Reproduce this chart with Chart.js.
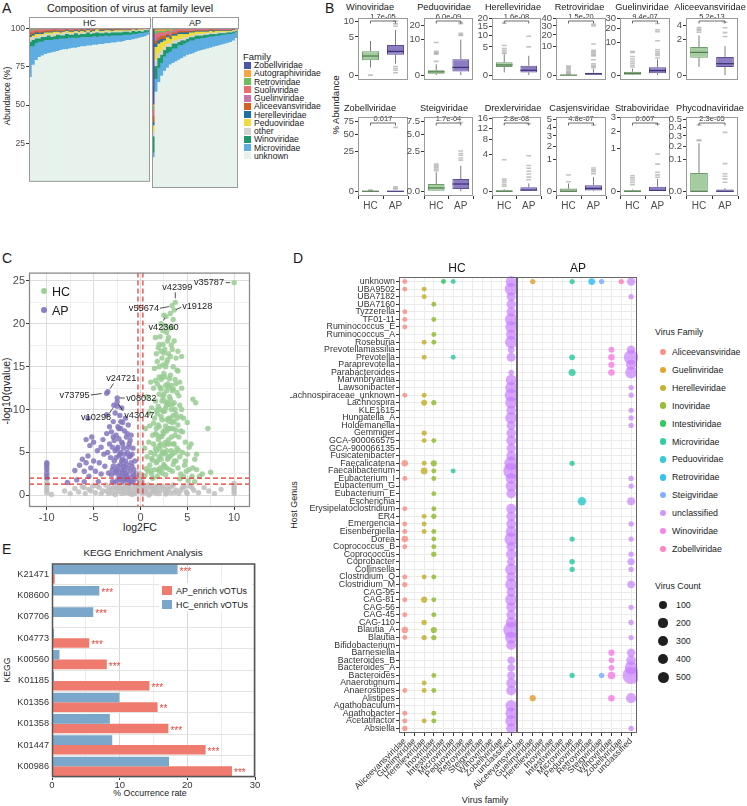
<!DOCTYPE html>
<html>
<head>
<meta charset="utf-8">
<title>Virome figure</title>
<script src="https://cdn.jsdelivr.net/npm/chart.js@4.4.1/dist/chart.umd.min.js"></script>
<style>
  body { margin: 0; background: #fff; }
  #root { position: relative; width: 747px; height: 806px; overflow: hidden; font-family: "Liberation Sans", Arial, sans-serif; color: #1a1a1a; }
  #root canvas { position: absolute; }
  .t { position: absolute; white-space: nowrap; line-height: 1; }
  .sw { position: absolute; }
</style>
</head>
<body>
<div id="root"></div>
<script>
// ---------- A: family composition per sample (stack order bottom -> top) ----------
const stackFamilies = ['unknown', 'Microviridae', 'Winoviridae', 'other', 'Peduoviridae', 'Herelleviridae',
  'Aliceevansviridae', 'Guelinviridae', 'Suoliviridae', 'Retroviridae', 'Autographiviridae', 'Zobellviridae'];

const hcUnknown = [68,76,79,81,82,83,83.5,84,84.5,85,85.5,86,86,86.5,87,87,87.5,88,88,88.5,88.5,89,89,89.5,89.5,90,90,90.5,90.5,91,91,91.5,92,92,92.5,93,93.5,94,94.5,95.5];
const hcMicro = [20,12,11,10,9,9,8.5,8,8,7.5,7.5,7,7,7,6.5,6.5,6,6,6,5.5,5.5,5.5,5,5,5,5,4.5,4.5,4.5,4,4,4,3.5,3.5,3.5,3,3,2.5,2.5,2];
const hcWino = [3,4,3,2,3,2,3,2,2,3,2,2,3,2,2,3,2,2,2,3,2,2,3,2,2,2,2,2,2,2,2,2,2,1.5,2,1.5,1.5,1,1.5,1];
const hcOther = [2,2,1,2,1,2,1,1,2,1,1,2,1,1,1,1,1,1,1,0.5,1,1,1,1,0.5,1,1,0.5,1,0.5,1,0.5,0.5,1,0.5,0.5,0.5,1,0.5,0.5];
const hcPedu = [1,1,2,1,1,1,1,2,1,1,1,0.5,1,1,1,0.5,1,1,0.5,1,0.5,0.5,1,0.5,1,0.5,1,0.5,0.5,1,0.5,0.5,0.5,0.5,0.5,0.5,0.5,0.5,0.5,0.3];
const hcHerelle = [1,1,1,0.5,1,0.5,0.5,0.5,0.5,0.5,0.5,0.5,0.5,0.5,0.5,0.5,0.5,0.5,0.5,0.5,0.5,0.5,0.3,0.5,0.5,0.3,0.5,0.5,0.3,0.3,0.3,0.3,0.3,0.3,0.3,0.3,0.2,0.2,0.2,0.2];
const hcAlice = [2,1,1,1,1,1,1,1,1,0.5,1,0.5,0.5,0.5,0.5,0.5,0.5,0.5,0.5,0.5,0.5,0.5,0.3,0.5,0.5,0.5,0.5,0.5,0.3,0.3,0.3,0.3,0.3,0.3,0.3,0.3,0.3,0.3,0.3,0.2];
const hcGuelin = [0.5,0.5,0.5,0.5,0.5,0.5,0.5,0.5,0.5,0.5,0.5,0.5,0.3,0.5,0.5,0.3,0.5,0.3,0.5,0.3,0.3,0.3,0.3,0.3,0.3,0.3,0.3,0.3,0.3,0.3,0.2,0.3,0.3,0.2,0.2,0.2,0.2,0.2,0.2,0.1];
const hcSuoli = [1,1,0.5,1,0.5,0.5,0.5,0.5,0.5,0.5,0.5,0.5,0.5,0.5,0.5,0.5,0.5,0.5,0.5,0.5,0.5,0.3,0.5,0.3,0.3,0.3,0.5,0.3,0.3,0.3,0.3,0.3,0.3,0.3,0.2,0.3,0.2,0.2,0.1,0.1];
const hcRetro = [1,1,0.5,0.5,0.5,0.5,0.5,0.5,0.5,0.5,0.3,0.5,0.5,0.3,0.3,0.5,0.3,0.3,0.3,0.3,0.3,0.3,0.3,0.3,0.3,0.3,0.3,0.3,0.3,0.3,0.3,0.2,0.2,0.2,0.2,0.2,0.2,0.1,0.1,0.1];
const hcAuto = [0.5,0.3,0.3,0.3,0.3,0.3,0.3,0.3,0.3,0.3,0.3,0.3,0.3,0.3,0.3,0.3,0.3,0.3,0.3,0.3,0.3,0.3,0.3,0.3,0.3,0.3,0.3,0.3,0.3,0.3,0.3,0.3,0.3,0.3,0.2,0.2,0.2,0.2,0.1,0.1];
const hcZobell = [0.5,0.5,0.5,0.5,0.5,0.5,0.5,0.5,0.5,0.5,0.5,0.5,0.5,0.5,0.5,0.5,0.5,0.5,0.5,0.5,0.5,0.5,0.5,0.5,0.5,0.5,0.5,0.5,0.5,0.5,0.5,0.5,0.5,0.5,0.5,0.5,0.5,0.5,0.5,0.5];

const apUnknown = [19,60,66,70,73,75,77,78,79,80,81,82,83,83.5,84,85,85.5,86,86.5,87,87.5,88,88.5,89,89.5,90,90.5,91,92,93.5];
const apMicro = [3,8,9,8,9,9,8,9,8,9,8,8,8,8.5,8,8,7.5,7.5,7,7,7,6.5,6.5,6,6,5.5,5.5,5,4.5,4];
const apWino = [10,8,6,5,4,4,3,3,3,2,3,2,2,2,2,2,2,1.5,2,1.5,1.5,1.5,1,1.5,1,1,1,1,1,0.5];
const apOther = [3,4,3,3,2,2,2,2,2,2,1,2,1,1,1,1,1,1,1,1,1,0.5,1,0.5,1,0.5,0.5,0.5,0.5,0.5];
const apPedu = [4,8,6,5,4,4,3,3,3,3,3,2,2,2,2,1.5,1.5,1.5,1,1,1,1,1,1,0.5,1,0.5,0.5,0.5,0.5];
const apHerelle = [2,2,2,2,1,1,1,1,1,1,1,1,1,0.5,0.5,0.5,0.5,0.5,0.5,0.5,0.5,0.5,0.3,0.3,0.3,0.3,0.3,0.3,0.3,0.2];
const apAlice = [4,2,2,2,2,1,1,1,1,1,1,1,1,0.5,0.5,0.5,0.5,0.5,0.5,0.5,0.5,0.5,0.5,0.3,0.3,0.3,0.3,0.3,0.3,0.2];
const apGuelin = [1,2,1,1,1,1,1,1,1,0.5,0.5,0.5,0.5,0.5,0.5,0.5,0.5,0.5,0.5,0.5,0.3,0.3,0.3,0.3,0.3,0.3,0.3,0.3,0.2,0.2];
const apSuoli = [3,2,2,1,1,1,1,0.5,1,0.5,0.5,0.5,0.5,0.5,0.5,0.5,0.5,0.5,0.5,0.3,0.3,0.5,0.3,0.3,0.3,0.3,0.3,0.3,0.2,0.2];
const apRetro = [2,2,1,1,1,1,1,1,0.5,0.5,0.5,0.5,0.5,0.5,0.5,0.5,0.5,0.5,0.3,0.3,0.3,0.3,0.3,0.3,0.3,0.3,0.3,0.3,0.2,0.2];
const apAuto = [1,1,1,1,1,0.5,1,1,0.5,0.5,0.5,0.5,0.5,0.5,0.5,0.3,0.3,0.3,0.3,0.3,0.3,0.3,0.3,0.3,0.3,0.3,0.3,0.3,0.2,0.2];
const apZobell = [50,2,2,2,1,1,1,0.5,1,0.5,0.5,0.5,0.5,0.5,0.5,0.5,0.5,0.5,0.5,0.5,0.5,0.5,0.5,0.5,0.5,0.5,0.5,0.5,0.5,0.5];

// ---------- B: boxplots (% abundance, sqrt axis) ----------
const boxFamilies = ['Winoviridae','Peduoviridae','Herelleviridae','Retroviridae','Guelinviridae','Aliceevansviridae',
  'Zobellviridae','Steigviridae','Drexlerviridae','Casjensviridae','Straboviridae','Phycodnaviridae'];
const boxPValues = ['1.7e-05','6.0e-09','1.6e-08','1.5e-20','9.4e-07','5.2e-13','0.017','1.7e-04','2.8e-08','4.8e-07','0.007','2.3e-05'];
const boxTicks = [['0','5','10'], ['0','10','20'], ['0','5','10','15','20'], ['0','10','20','30','40'], ['0','10','20','30'],
  ['0','1','2','3','4','5'], ['0','25','50','75'], ['0.0','2.5','5.0','7.5'], ['0','4','8','12','16'],
  ['0','1','2','3','4','5'], ['0','1','2','3'], ['0.0','0.1','0.2','0.3','0.4','0.5']];
const boxTop = [11.2, 26, 20.5, 40.5, 30.3, 5.25, 85, 8.5, 16.6, 5.4, 3.06, 0.54];
// [lower whisker, q1, median, q3, upper whisker]
const hcStats = [[0.2,0.77,1.25,1.97,4.0], [0,0.015,0.085,0.19,0.94], [0.045,0.41,0.65,1.04,2.74], [0,0,0,0.005,0.01],
  [0,0.001,0.03,0.11,0.38], [0.11,0.49,0.83,1.27,2.53], [0,0,0,0.002,0.004], [0,0,0.017,0.082,0.555],
  [0,0,0,0.005,0.012], [0,0,0,0.0074,0.06], [0,0,0,0.001,0.002], [0,0,0,0.033,0.226]];
const apStats = [[0.45,1.43,1.93,3.09,7.0], [0,0.1,0.47,2.0,10], [0,0.045,0.146,0.55,2.34], [0,0,0.015,0.07,0.47],
  [0,0.034,0.19,0.56,2.3], [0,0.104,0.21,0.535,1.35], [0,0,0,0.003,0.006], [0,0.008,0.082,0.23,1.0],
  [0,0,0.005,0.048,0.19], [0,0.0005,0.0074,0.036,0.2], [0,0,0.0005,0.0117,0.084], [0,0,0,0.0003,0.001]];
const hcOutliers = [[0], [1.5,3.5,3.8,4.1,4.5,8.5], [2.95,3.3,3.8,4.4,5.5,17], [0.02,0.05,0.1,0.2,0.35,0.55,0.75,1.0],
  [0.6,0.9,1.3,1.8,2.4,3.2,4.8,5.2], [2.95,3.2,3.4,3.65], [0.01,0.02], [0.65,0.75,0.85,0.95,1.05,1.15],
  [0.08,0.15,0.25,0.35,0.46,3.0], [0.09,0.26], [0.025,0.045,0.07,0.1,0.135], [0.25,0.26,0.43]];
const apOutliers = [[0.02,0.08,0.15,0.25,8.2,9.0,10.0], [12.5,13,14,21,22], [5.0,9.5],
  [0.7,0.9,1.2,1.6,2.9,4.6,5.2,6.0,6.8,7.6,12,30,32], [2.7,3.6,4.2,5,6,11,17.5,19,24.8], [2.4,2.9,3.6,4.5],
  [0.08,0.15,0.3,63], [1.5,1.7,2.0,2.2,2.5,7.3], [0.4,0.6,0.9,1.2,1.6,2.0,3.8,13.7], [0.3,0.38,0.45,0.53,4.3],
  [0.11,0.15,0.2,0.41,0.77,2.5], [0.008,0.015,0.022,0.03,0.075,0.34]];

// ---------- C: volcano [log2FC, -log10(q)] ----------
const hcPts = [[0.5,2.3],[0.6,3.1],[0.7,4.5],[0.8,2.8],[0.9,6.2],[1.0,3.5],[1.0,8.1],[1.1,5.0],[1.2,2.5],[1.2,10.2],[1.3,7.0],[1.3,4.1],[1.4,12.5],[1.4,6.0],[1.5,3.0],[1.5,9.0],[1.5,14.8],[1.6,5.5],[1.6,11.0],[1.7,7.8],[1.7,16.5],[1.7,3.8],[1.8,13.0],[1.8,9.5],[1.8,2.2],[1.9,6.5],[1.9,17.2],[2.0,4.5],[2.0,11.8],[2.0,8.0],[2.0,15.0],[2.1,3.2],[2.1,10.0],[2.1,18.5],[2.2,6.0],[2.2,13.5],[2.2,20.0],[2.3,2.6],[2.3,8.8],[2.3,16.0],[2.4,5.0],[2.4,11.5],[2.4,19.2],[2.5,7.2],[2.5,14.2],[2.5,3.6],[2.5,21.0],[2.6,9.8],[2.6,17.0],[2.6,5.8],[2.7,12.8],[2.7,2.4],[2.73,20.85],[2.8,7.5],[2.8,15.5],[2.8,10.5],[2.9,4.2],[2.9,18.0],[2.9,13.0],[3.0,6.5],[3.37,22.1],[3.0,9.0],[3.0,16.5],[3.1,3.0],[3.1,11.5],[3.1,19.5],[3.2,7.8],[3.2,14.0],[3.2,21.2],[3.3,5.2],[3.3,10.0],[3.3,17.5],[3.4,2.8],[3.4,12.2],[3.4,8.5],[3.5,15.0],[3.5,6.0],[3.5,20.5],[3.72,22.5],[3.6,10.8],[3.6,4.0],[3.7,13.5],[3.7,7.0],[3.6,21.6],[3.8,9.5],[3.8,16.0],[3.9,5.5],[3.9,12.0],[4.0,3.2],[4.0,8.2],[4.0,14.5],[4.1,6.8],[4.2,10.5],[4.2,4.5],[4.3,2.5],[4.3,7.5],[4.4,12.5],[4.5,5.0],[4.6,9.0],[4.7,3.5],[4.8,6.2],[4.9,2.8],[5.0,4.8],[5.0,8.5],[5.2,3.0],[5.4,6.0],[5.5,2.2],[5.8,4.2],[6.0,3.0],[6.3,2.2],[7.2,7.8],[7.5,2.7],[5.9,10.8],[5.6,11.2],[1.1,13.2],[0.9,9.6],[1.6,18.4],[2.0,17.6],[2.4,15.2],[2.2,12.4],[2.6,13.8],[3.0,12.6],[3.4,17.0],[2.8,5.2],[1.3,2.0],[0.45,5.5],[0.55,7.8],[0.7,11.5],[1.9,10.4],[2.3,6.9],[2.7,8.1],[3.1,6.0],[3.5,9.3],[3.9,14.6],[2.1,5.4],[1.7,9.9],[4.4,16.2],[4.1,11.6],[10,24.8],
  [1.5,4.8],[1.6,7.2],[1.7,5.2],[1.8,4.0],[1.8,7.0],[1.9,3.0],[1.9,8.2],[2.0,5.8],[2.0,2.8],[2.1,6.8],[2.1,12.6],[2.2,4.2],[2.2,9.2],[2.3,4.8],[2.3,11.0],[2.3,13.8],[2.4,3.2],[2.4,7.4],[2.4,9.8],[2.5,5.0],[2.5,11.8],[2.5,16.6],[2.6,3.4],[2.6,7.6],[2.6,11.0],[2.7,4.8],[2.7,6.2],[2.7,10.2],[2.7,15.0],[2.8,3.2],[2.8,8.8],[2.8,12.2],[2.9,6.0],[2.9,10.8],[2.9,15.8],[3.0,4.4],[3.0,7.8],[3.0,10.6],[3.1,8.6],[3.1,13.6],[3.2,4.6],[3.2,9.0],[3.2,11.2],[3.3,6.8],[3.3,12.8],[3.4,4.8],[3.4,10.6],[3.5,3.6],[3.5,7.8],[3.5,12.4],[3.6,6.0],[3.6,8.6],[3.7,5.0],[3.7,10.0],[3.8,4.0],[3.8,7.6],[3.9,9.0],[4.1,5.2],[4.3,9.2],[4.5,7.4],[4.8,4.0],[5.2,5.6],[5.6,3.2],[6.0,4.8],[4.6,2.2],[5.1,1.7],[5.8,1.6],[4.2,1.9],[6.6,2.5],[1.1,2.9],[1.2,4.3],[1.4,8.4],[1.6,13.4],[1.8,15.6],[2.0,13.8],[2.2,16.8],[2.4,17.6],[2.6,19.8],[2.8,19.0],[3.0,18.4],[3.2,16.2],[3.4,19.6],[3.6,18.0],[3.8,13.0],[4.0,16.8],[4.2,13.2],[4.4,10.0]];
const apPts = [[-0.5,2.5],[-0.6,4.0],[-0.7,3.0],[-0.8,5.5],[-0.9,2.2],[-1.0,7.0],[-1.0,3.8],[-1.1,2.8],[-1.2,6.0],[-1.2,4.5],[-1.3,8.2],[-1.3,3.2],[-1.4,5.0],[-1.5,2.4],[-1.5,6.8],[-1.6,4.0],[-1.6,9.0],[-1.7,3.0],[-1.7,7.5],[-1.8,5.5],[-1.8,2.2],[-1.9,8.5],[-1.9,4.2],[-2.0,6.2],[-2.0,3.0],[-2.0,10.2],[-2.1,5.0],[-2.1,7.8],[-2.2,2.6],[-2.2,9.3],[-2.3,4.6],[-2.3,6.6],[-2.4,3.4],[-2.4,8.0],[-2.5,10.4],[-2.5,5.4],[-2.48,11.35],[-2.6,7.0],[-2.6,2.8],[-2.7,9.6],[-2.8,4.0],[-2.8,6.4],[-2.9,8.6],[-3.0,3.0],[-3.0,5.6],[-3.1,7.4],[-2.84,10.5],[-2.48,10.9],[-3.2,4.4],[-3.3,6.0],[-3.4,2.6],[-3.48,12.07],[-3.6,11.9],[-3.5,5.0],[-3.6,7.2],[-3.8,3.4],[-3.9,4.8],[-4.0,6.5],[-4.2,2.5],[-4.4,3.8],[-4.6,5.2],[-4.8,2.8],[-5.0,4.0],[-5.2,6.8],[-5.3,3.2],[-5.4,5.8],[-5.5,2.2],[-5.6,9.0],[-5.6,4.6],[-5.8,6.5],[-6.0,2.8],[-6.2,4.2],[-6.5,3.5],[-7.0,2.9],[-7.8,1.5],[-6.0,1.6],[-10,2.0],[-10,2.3],[-10,2.6],[-10,3.0],[-10,3.3],[-10,3.6],[-10,3.8],[-1.0,1.6],[-1.5,1.8],[-2.0,1.5],[-2.5,1.7],[-1.2,1.4],[-1.8,1.9],[-0.8,1.5],[-3.0,1.6],
  [-0.6,1.9],[-0.7,2.4],[-0.9,3.4],[-1.1,4.6],[-1.3,5.6],[-1.4,2.2],[-1.5,3.6],[-1.6,2.6],[-1.7,4.8],[-1.8,3.4],[-1.9,2.6],[-2.0,4.0],[-2.1,3.6],[-2.2,4.8],[-2.3,2.2],[-2.4,5.6],[-2.5,3.0],[-2.6,4.4],[-2.7,2.6],[-2.7,5.2],[-2.9,3.4],[-3.1,2.4],[-1.2,1.8],[-1.6,1.6],[-2.2,1.9],[-2.7,1.5],[-0.9,4.8],[-1.1,6.4],[-1.4,7.2],[-1.9,6.0],[-2.3,7.8],[-2.9,6.8],[-3.3,8.0],[-3.6,9.4],[-2.1,8.6],[-4.2,5.6],[-5.0,6.2],[-5.8,3.8],[-6.8,1.8],[-4.5,1.6]];
const nsPts = [[-10,0.3],[-10,0.6],[-10,0.9],[-10,1.2],[-10,1.5],[10,0.2],[10,0.5],[10,0.8],[10,1.1],[10,1.4],[-9.5,0.1],[-8.1,0.5],[-7.5,0.2],[-7.0,0.8],[-6.6,0.4],[-6.2,1.0],[-5.9,0.2],[-5.5,0.7],[-5.1,1.1],[-4.8,0.3],[-4.4,0.9],[-4.0,0.5],[-3.7,1.2],[-3.4,0.2],[-3.1,0.7],[-2.8,1.0],[-2.5,0.4],[-2.2,0.9],[-2.0,0.2],[-1.8,0.6],[-1.6,1.1],[-1.4,0.3],[-1.2,0.8],[-1.0,0.5],[-0.8,1.0],[-0.6,0.2],[-0.4,0.7],[-0.2,1.2],[-0.1,0.4],[0.0,0.9],[0.1,1.6],[0.2,0.3],[-0.15,2.0],[0.05,2.4],[0.15,1.8],[-0.05,1.4],[0.4,1.0],[0.6,0.5],[0.8,1.2],[1.0,0.2],[1.2,0.8],[1.4,0.4],[1.6,1.0],[1.8,0.6],[2.0,0.2],[2.3,1.1],[2.6,0.5],[2.9,0.9],[3.2,0.3],[3.5,1.2],[3.8,0.6],[4.1,0.2],[4.5,0.9],[4.9,0.4],[5.3,1.1],[5.7,0.6],[6.2,0.3],[6.8,0.9],[7.3,0.5],[7.9,0.2],[8.6,0.7],[-0.9,0.1],[0.9,0.05],[-2.7,0.1],[2.7,0.15],
  [-0.3,0.6],[0.3,0.9],[-0.5,1.1],[0.5,0.3],[-0.7,0.4],[0.7,0.8],[-1.1,0.2],[1.1,1.0],[-1.3,0.7],[1.3,0.4],[-1.5,1.2],[1.5,0.7],[-1.7,0.3],[1.7,0.2],[-1.9,0.8],[1.9,1.1],[-2.1,0.5],[2.1,0.6],[-2.3,1.2],[2.5,0.9],[-2.6,0.8],[2.8,0.3],[-3.0,0.3],[3.0,0.7],[-3.3,0.9],[3.3,1.0],[-3.6,0.5],[3.6,0.3],[-4.2,0.2],[4.3,0.6],[-4.6,1.1],[4.7,1.0],[-5.3,0.5],[5.0,0.2],[-6.0,0.9],[5.5,0.9],[-0.1,1.9],[0.1,2.2],[-0.2,2.6],[0.2,1.5]];
const fcCutoffs = [-0.263, 0.263];
const qCutoffs = [1.3, 2];
const volcanoLabels = ['v35787','v42399','v55674','v19128','v42360','v24721','v73795','v08032','v10298','v43047'];
const volcanoLabelPts = [[10,24.8],[3.72,22.5],[3.37,22.1],[3.6,21.6],[2.73,20.85],[-3.48,12.07],[-3.6,11.9],[-2.48,11.35],[-2.84,10.5],[-2.48,10.9]];

// ---------- D: host genus x virus family counts ----------
const hostGenera = ['unknown','UBA9502','UBA7182','UBA7160','Tyzzerella','TF01-11','Ruminococcus_E','Ruminococcus_A','Roseburia',
  'Prevotellamassilia','Prevotella','Paraprevotella','Parabacteroides','Marvinbryantia','Lawsonibacter','Lachnospiraceae_unknown',
  'Lachnospira','KLE1615','Hungatella_A','Holdemanella','Gemmiger','GCA-900066575','GCA-900066135','Fusicatenibacter','Faecalicatena',
  'Faecalibacterium','Eubacterium_I','Eubacterium_G','Eubacterium_E','Escherichia','Erysipelatoclostridium','ER4','Emergencia',
  'Eisenbergiella','Dorea','Coprococcus_B','Coprococcus','Coprobacter','Collinsella','Clostridium_Q','Clostridium_M','CAG-95','CAG-81',
  'CAG-56','CAG-45','CAG-110','Blautia_A','Blautia','Bifidobacterium','Barnesiella','Bacteroides_B','Bacteroides_A','Bacteroides',
  'Anaerotignum','Anaerostipes','Alistipes','Agathobaculum','Agathobacter','Acetatifactor','Absiella'];
const xFamilies = ['Aliceevansviridae','Guelinviridae','Herelleviridae','Inoviridae','Intestiviridae','Microviridae','Peduoviridae',
  'Retroviridae','Steigviridae','Winoviridae','Zobellviridae','unclassified'];
const legendFamilies = ['Aliceevansviridae','Guelinviridae','Herelleviridae','Inoviridae','Intestiviridae','Microviridae','Peduoviridae',
  'Retroviridae','Steigviridae','unclassified','Winoviridae','Zobellviridae'];
// [host genus, column in xFamilies, virus count]
const hcDots = [['unknown',0,3],['unknown',4,3],['unknown',5,3],['unknown',11,150],['UBA9502',0,3],['UBA9502',2,3],['UBA9502',11,250],
  ['UBA7182',2,3],['UBA7182',11,80],['UBA7160',3,3],['UBA7160',11,90],['Tyzzerella',0,3],['Tyzzerella',11,90],['TF01-11',0,3],['TF01-11',3,3],
  ['TF01-11',11,220],['Ruminococcus_E',0,3],['Ruminococcus_E',11,200],['Ruminococcus_A',3,3],['Ruminococcus_A',11,130],['Roseburia',2,3],
  ['Roseburia',3,3],['Roseburia',11,220],['Prevotellamassilia',11,25],['Prevotella',2,3],['Prevotella',5,3],['Prevotella',11,80],
  ['Parabacteroides',11,8],['Marvinbryantia',11,150],['Lawsonibacter',11,200],['Lachnospiraceae_unknown',0,3],['Lachnospiraceae_unknown',2,3],
  ['Lachnospiraceae_unknown',11,250],['Lachnospira',2,12],['Lachnospira',3,5],['Lachnospira',11,200],['KLE1615',11,100],['Hungatella_A',11,200],
  ['Holdemanella',11,80],['Gemmiger',2,5],['Gemmiger',11,100],['GCA-900066575',2,3],['GCA-900066575',3,3],['GCA-900066575',11,110],
  ['GCA-900066135',11,90],['Fusicatenibacter',11,100],['Faecalicatena',0,20],['Faecalicatena',2,3],['Faecalicatena',3,15],['Faecalicatena',11,300],
  ['Faecalibacterium',2,25],['Faecalibacterium',3,3],['Faecalibacterium',5,3],['Faecalibacterium',11,450],['Eubacterium_I',0,3],['Eubacterium_I',3,3],
  ['Eubacterium_I',11,150],['Eubacterium_G',11,150],['Eubacterium_E',3,3],['Eubacterium_E',11,100],['Erysipelatoclostridium',0,3],
  ['Erysipelatoclostridium',3,3],['Erysipelatoclostridium',11,110],['ER4',2,3],['ER4',3,5],['ER4',11,100],['Emergencia',0,3],['Emergencia',2,3],
  ['Emergencia',11,110],['Eisenbergiella',0,3],['Eisenbergiella',2,3],['Eisenbergiella',3,3],['Eisenbergiella',11,150],['Dorea',0,20],['Dorea',3,3],
  ['Dorea',11,280],['Coprococcus_B',0,3],['Coprococcus_B',3,3],['Coprococcus_B',11,100],['Coprococcus',3,5],['Coprococcus',11,130],
  ['Coprobacter',11,60],['Collinsella',11,200],['Clostridium_Q',0,3],['Clostridium_Q',2,3],['Clostridium_Q',3,3],['Clostridium_Q',11,100],
  ['Clostridium_M',0,5],['Clostridium_M',11,200],['CAG-95',11,90],['CAG-81',0,3],['CAG-81',2,15],['CAG-81',3,3],['CAG-81',11,200],['CAG-56',11,100],
  ['CAG-45',0,3],['CAG-45',3,3],['CAG-45',11,100],['CAG-110',2,5],['CAG-110',11,150],['Blautia_A',0,20],['Blautia_A',3,15],['Blautia_A',11,450],
  ['Blautia',0,3],['Blautia',2,5],['Blautia',3,5],['Blautia',11,220],['Bifidobacterium',11,110],['Bacteroides_B',11,40],['Bacteroides_A',11,40],
  ['Bacteroides',3,3],['Bacteroides',11,50],['Anaerotignum',2,3],['Anaerotignum',11,110],['Anaerostipes',0,3],['Anaerostipes',2,3],['Anaerostipes',3,3],
  ['Anaerostipes',11,110],['Agathobaculum',11,180],['Agathobacter',0,3],['Agathobacter',3,3],['Agathobacter',11,180],['Acetatifactor',0,3],
  ['Acetatifactor',2,3],['Acetatifactor',3,3],['Acetatifactor',11,200],['Absiella',0,5],['Absiella',11,120]];
const apDots = [['unknown',1,5],['unknown',5,5],['unknown',7,25],['unknown',8,5],['unknown',10,5],['unknown',11,60],['UBA7182',11,5],
  ['Prevotellamassilia',9,10],['Prevotellamassilia',11,60],['Prevotella',5,10],['Prevotella',9,20],['Prevotella',11,350],['Paraprevotella',9,15],
  ['Paraprevotella',11,120],['Parabacteroides',5,30],['Parabacteroides',9,20],['Parabacteroides',11,200],['Lawsonibacter',11,5],
  ['Lachnospiraceae_unknown',11,5],['KLE1615',11,5],['Hungatella_A',11,5],['Holdemanella',11,5],['Faecalicatena',5,5],['Eubacterium_I',11,5],
  ['Eubacterium_G',11,5],['Escherichia',6,60],['Escherichia',11,50],['Emergencia',11,5],['Dorea',5,5],['Dorea',11,5],['Coprococcus',11,5],
  ['Coprobacter',5,8],['Coprobacter',11,30],['Collinsella',5,5],['Collinsella',11,5],['Clostridium_M',11,40],['CAG-56',11,5],['CAG-110',11,5],
  ['Blautia',11,5],['Barnesiella',9,15],['Barnesiella',11,60],['Bacteroides_B',9,8],['Bacteroides_B',11,100],['Bacteroides_A',9,10],
  ['Bacteroides_A',11,250],['Bacteroides',5,5],['Bacteroides',8,8],['Bacteroides',9,40],['Bacteroides',11,550],['Alistipes',1,15],
  ['Alistipes',9,20],['Alistipes',11,120],['Absiella',11,5]];
const countLegend = [100, 200, 300, 400, 500];

// ---------- E: KEGG enrichment (% occurrence) ----------
const keggIds = ['K21471','K08600','K07706','K04773','K00560','K01185','K01356','K01358','K01447','K00986'];
const keggHC = [18.55, 7.0, 6.1, 0.3, 1.1, 0.3, 9.95, 8.55, 8.9, 17.3];
const keggAP = [0.4, 0.15, 0, 5.5, 8.1, 14.4, 15.6, 17.2, 22.7, 26.6];
const keggSig = ['***','***','***','***','***','***','**','***','***','***'];

// ---------- styles ----------
const FONT = '"Liberation Sans", Arial, sans-serif';
const stackColors = ['#E7F2EC','#5DADE2','#1D9A6C','#D4D4D4','#EEDC3E','#1C6FA6','#D2601F','#C873AC','#EE6A6E','#6DBE5E','#F7A541','#4A56A6'];
const familyHues = ['#F8766D','#DE8C00','#B79F00','#7CAE00','#00BA38','#00C08B','#00BFC4','#00B4F0','#619CFF','#C77CFF','#F564E3','#FF64B0'];

Chart.defaults.font.family = FONT;
Chart.defaults.color = '#333';
Chart.defaults.layout.autoPadding = false;

const root = document.getElementById('root');

function hexA(hex, a) {
  const n = parseInt(hex.slice(1), 16);
  return `rgba(${n >> 16},${(n >> 8) & 255},${n & 255},${a})`;
}
const dotRadius = c => 2 + 0.28 * Math.sqrt(c);

function addText(str, x, y, o = {}) {
  const d = document.createElement('div');
  d.className = 't';
  d.textContent = str;
  d.style.left = x + 'px';
  d.style.top = y + 'px';
  d.style.fontSize = (o.size || 10) + 'px';
  if (o.color) d.style.color = o.color;
  let tr = 'translate(-50%,-50%)';
  if (o.align === 'left') tr = 'translate(0,-50%)';
  if (o.align === 'right') tr = 'translate(-100%,-50%)';
  if (o.rotate) tr += ' rotate(-90deg)';
  d.style.transform = tr;
  root.appendChild(d);
  return d;
}

function addBox(x, y, w, h, css) {
  const d = document.createElement('div');
  d.className = 'sw';
  d.style.cssText += `left:${x}px;top:${y}px;width:${w}px;height:${h}px;` + css;
  root.appendChild(d);
  return d;
}

function makeChart(x, y, w, h, cfg) {
  const c = document.createElement('canvas');
  c.width = w; c.height = h;
  c.style.left = x + 'px'; c.style.top = y + 'px';
  c.style.width = w + 'px'; c.style.height = h + 'px';
  root.appendChild(c);
  cfg.options = Object.assign({ responsive: false, animation: false, devicePixelRatio: 1 }, cfg.options || {});
  cfg.options.plugins = Object.assign({ legend: { display: false }, tooltip: { enabled: false } }, cfg.options.plugins || {});
  return new Chart(c, cfg);
}

const framePlugin = {
  id: 'frame',
  afterDraw(chart, args, opts) {
    const a = chart.chartArea, ctx = chart.ctx;
    ctx.save();
    ctx.strokeStyle = opts.color || '#888';
    ctx.lineWidth = opts.width || 1;
    ctx.strokeRect(a.left + 0.5, a.top + 0.5, a.right - a.left - 1, a.bottom - a.top - 1);
    ctx.restore();
  }
};

// ================= Panel A =================
addText('A', 2, 8, { size: 14, align: 'left' });
addText('Composition of virus at family level', 130, 7.5, { size: 10.8 });
addText('Abundance (%)', 7, 96, { size: 8.5, rotate: true });

function compositionChart(left, width, series, showY, name) {
  const axisW = showY ? 29 : 0;
  addBox(left, 17, width - 1, 10, 'border:1px solid #9a9a9a;background:#fff;');
  addText(name, left + width / 2, 22.5, { size: 9 });
  return makeChart(left - axisW, 22, width + axisW, 166, {
    type: 'bar',
    data: {
      labels: series[0].map((_, i) => name + (i + 1)),
      datasets: series.map((d, k) => ({
        label: stackFamilies[k], data: d, backgroundColor: stackColors[k],
        borderWidth: 0, barPercentage: 1, categoryPercentage: 1, clip: 0
      }))
    },
    options: {
      layout: { padding: { top: 6 } },
      scales: {
        x: { stacked: true, display: false },
        y: {
          stacked: true, min: 0, max: 100, display: showY,
          afterFit: s => { s.width = axisW; },
          afterBuildTicks: s => { s.ticks = [25, 50, 75, 100].map(v => ({ value: v })); },
          grid: { drawOnChartArea: false, tickLength: 3, tickColor: '#333' },
          border: { display: false },
          ticks: { font: { size: 8.6 }, color: '#4d4d4d', padding: 1 }
        }
      },
      plugins: { frame: { color: '#9a9a9a' } }
    },
    plugins: [framePlugin]
  });
}
compositionChart(29, 121, [hcUnknown, hcMicro, hcWino, hcOther, hcPedu, hcHerelle, hcAlice, hcGuelin, hcSuoli, hcRetro, hcAuto, hcZobell], true, 'HC');
compositionChart(152, 86, [apUnknown, apMicro, apWino, apOther, apPedu, apHerelle, apAlice, apGuelin, apSuoli, apRetro, apAuto, apZobell], false, 'AP');

addText('Family', 243, 56.5, { size: 9.5, align: 'left' });
stackFamilies.slice().reverse().forEach((f, k) => {
  const y = 65 + k * 8.27;
  const col = stackColors[stackFamilies.length - 1 - k];
  addBox(244, y - 3.5, 7, 7, `background:${col};`);
  addText(f, 254, y, { size: 8.6, align: 'left' });
});

// ================= Panel B =================
addText('B', 325, 8, { size: 14, align: 'left' });
addText('% Abundance', 336, 105, { size: 9.6, rotate: true });

const bColLeft = [358, 424, 492, 556, 620, 686];
const bColWidth = [50, 49, 49, 50, 50, 52];
const bTitleShift = [-13, -4.5, -3.5, -1.5, -3, -2];
const bRowSpan = [[18, 94], [117, 196]];
const bRowTitleY = [7.5, 108.5];
const bBracketOff = [3, 6];
const boxFill = ['#A3CD9E', '#8D7CC4'];
const boxLine = ['#6F9A6B', '#5D4E96'];
const boxMedian = ['#4F7A4B', '#3D3075'];

const boxPlugin = {
  id: 'boxExtras',
  afterDatasetsDraw(chart, args, opts) {
    const ctx = chart.ctx, ys = chart.scales.y;
    const bars = chart.getDatasetMeta(0).data;
    const py = v => ys.getPixelForValue(Math.sqrt(v));
    ctx.save();
    opts.stats.forEach((st, k) => {
      const cx = bars[k].x, half = bars[k].width / 2;
      ctx.strokeStyle = '#5a5a5a'; ctx.lineWidth = 0.8;
      ctx.beginPath();
      ctx.moveTo(cx, py(st[3])); ctx.lineTo(cx, py(st[4]));
      ctx.moveTo(cx, py(st[1])); ctx.lineTo(cx, py(st[0]));
      ctx.stroke();
      ctx.strokeStyle = boxMedian[k]; ctx.lineWidth = 1.2;
      ctx.beginPath(); ctx.moveTo(cx - half, py(st[2])); ctx.lineTo(cx + half, py(st[2])); ctx.stroke();
    });
    const a = chart.chartArea, y0 = a.top + opts.off;
    const x1 = bars[0].x, x2 = bars[1].x;
    ctx.strokeStyle = '#444'; ctx.lineWidth = 0.8;
    ctx.beginPath();
    ctx.moveTo(x1, y0 + 2.5); ctx.lineTo(x1, y0); ctx.lineTo(x2, y0); ctx.lineTo(x2, y0 + 2.5);
    ctx.stroke();
    ctx.fillStyle = '#333';
    ctx.font = '7.5px ' + FONT;
    ctx.textAlign = 'center'; ctx.textBaseline = 'bottom';
    ctx.fillText(opts.p, (x1 + x2) / 2, y0 - 0.3);
    ctx.restore();
  }
};

function boxChart(i) {
  const col = i % 6, row = Math.floor(i / 6);
  const left = bColLeft[col], w = bColWidth[col];
  const [top, bottom] = bRowSpan[row];
  const axisW = 24, padTop = 12, xH = row === 1 ? 14 : 0;
  const sq = v => Math.sqrt(v);
  const sMax = sq(boxTop[i]);
  const sMin = -sMax * (row === 0 ? 6 / 70 : 4.7 / 74.3);
  const ticks = boxTicks[i];
  addText(boxFamilies[i], left + w / 2 + bTitleShift[col], bRowTitleY[row], { size: 9.2 });
  const outPts = hcOutliers[i].map(v => ({ x: 'HC', y: sq(v) })).concat(apOutliers[i].map(v => ({ x: 'AP', y: sq(v) })));
  return makeChart(left - axisW, top - padTop, axisW + w + 1, padTop + (bottom - top) + (xH || 1), {
    type: 'bar',
    data: {
      labels: ['HC', 'AP'],
      datasets: [
        {
          type: 'bar', order: 1,
          data: [[sq(hcStats[i][1]), sq(hcStats[i][3])], [sq(apStats[i][1]), sq(apStats[i][3])]],
          backgroundColor: boxFill, borderColor: boxLine, borderWidth: 1, borderSkipped: false,
          barPercentage: 0.68, categoryPercentage: 1
        },
        {
          type: 'scatter', order: 0, data: outPts,
          pointStyle: 'line', pointRadius: 2.4, borderColor: 'rgba(175,175,175,0.75)', borderWidth: 1.6
        }
      ]
    },
    options: {
      layout: { padding: { top: padTop, right: 1, bottom: row === 0 ? 1 : 0 } },
      scales: {
        x: {
          display: row === 1, afterFit: s => { s.height = 14; s.paddingLeft = 0; s.paddingRight = 0; },
          grid: { drawOnChartArea: false, tickLength: 3, tickColor: '#333' }, border: { display: false },
          ticks: { font: { size: 10 }, color: '#4d4d4d', padding: 1 }
        },
        y: {
          min: sMin, max: sMax,
          afterFit: s => { s.width = axisW; },
          afterBuildTicks: s => { s.ticks = ticks.map(t => ({ value: sq(parseFloat(t)) })); },
          grid: { drawOnChartArea: false, tickLength: 3, tickColor: '#333' }, border: { display: false },
          ticks: { callback: (v, k) => ticks[k], font: { size: 9.5 }, color: '#4d4d4d', padding: 1 }
        }
      },
      plugins: {
        frame: { color: '#9a9a9a' },
        boxExtras: { stats: [hcStats[i], apStats[i]], p: boxPValues[i], off: bBracketOff[row] }
      }
    },
    plugins: [framePlugin, boxPlugin]
  });
}
boxFamilies.forEach((_, i) => boxChart(i));

// ================= Panel C =================
addText('C', 2, 258, { size: 14, align: 'left' });
addText('-log10(qvalue)', 6, 391, { size: 10.5, rotate: true });
addText('log2FC', 140, 527, { size: 10.5 });

// label text offsets from the point: [dx, dy, align, leader x1, y1, x2, y2]
const labelLayout = [
  [-10, 0, 'right', -8.5, 0, -4, 0],
  [2, -14.5, 'center', 0, -4, 0, -10],
  [-13, 3, 'right', -12, 2.5, -3, 0.8],
  [8, -3.5, 'left', 1.7, -0.5, 7, -2.8],
  [-2.4, 10.7, 'center', -2.6, 4, -0.9, 1.3],
  [-1.7, -13.2, 'left', 2.3, -3.2, 5.6, -8.2],
  [-17, 2, 'right', -16, 1.8, -5, 0.3],
  [9, 0, 'left', 2.5, 0, 7.5, 0],
  [-2.7, 11.7, 'right', -1, 3, -4.5, 8],
  [7, 13.4, 'left', 1, 2, 6, 9]
];

const volcanoPlugin = {
  id: 'volcanoMarks',
  afterDatasetsDraw(chart) {
    const ctx = chart.ctx, xs = chart.scales.x, ys = chart.scales.y, a = chart.chartArea;
    ctx.save();
    ctx.beginPath(); ctx.rect(a.left, a.top, a.right - a.left, a.bottom - a.top); ctx.clip();
    ctx.strokeStyle = '#E8312A'; ctx.lineWidth = 1.2; ctx.setLineDash([5, 3]);
    fcCutoffs.forEach(v => {
      const px = xs.getPixelForValue(v);
      ctx.beginPath(); ctx.moveTo(px, a.top); ctx.lineTo(px, a.bottom); ctx.stroke();
    });
    qCutoffs.forEach(v => {
      const py = ys.getPixelForValue(v);
      ctx.beginPath(); ctx.moveTo(a.left, py); ctx.lineTo(a.right, py); ctx.stroke();
    });
    ctx.restore();
    ctx.save();
    ctx.font = '9.2px ' + FONT;
    ctx.fillStyle = '#222'; ctx.strokeStyle = '#222'; ctx.lineWidth = 0.8; ctx.textBaseline = 'middle';
    volcanoLabels.forEach((name, k) => {
      const [vx, vy] = volcanoLabelPts[k];
      const L = labelLayout[k];
      const px = xs.getPixelForValue(vx), py = ys.getPixelForValue(vy);
      ctx.beginPath(); ctx.moveTo(px + L[3], py + L[4]); ctx.lineTo(px + L[5], py + L[6]); ctx.stroke();
      ctx.textAlign = L[2];
      ctx.fillText(name, px + L[0], py + L[1]);
    });
    ctx.restore();
  }
};

function stepTicks(from, to, step) {
  const out = [];
  for (let v = from; v <= to + 1e-9; v += step) out.push({ value: v });
  return out;
}
const majorGrid = c => (c.tick && Math.abs(c.tick.value % 5) < 1e-9) ? '#dcdcdc' : '#efefef';
const majorTick = c => (c.tick && Math.abs(c.tick.value % 5) < 1e-9) ? '#333' : 'rgba(0,0,0,0)';

makeChart(0, 265, 255, 270, {
  type: 'scatter',
  data: {
    datasets: [
      { data: nsPts.map(p => ({ x: p[0], y: p[1] })), backgroundColor: 'rgba(192,192,192,0.85)', pointRadius: 2.7, borderWidth: 0 },
      { data: apPts.map(p => ({ x: p[0], y: p[1] })), backgroundColor: 'rgba(133,118,190,0.85)', pointRadius: 2.7, borderWidth: 0 },
      { data: hcPts.map(p => ({ x: p[0], y: p[1] })), backgroundColor: 'rgba(152,205,146,0.85)', pointRadius: 2.7, borderWidth: 0 }
    ]
  },
  options: {
    layout: { padding: { top: 7, right: 5 } },
    scales: {
      x: {
        min: -11.9, max: 11.7,
        afterFit: s => { s.height = 28; s.paddingLeft = 0; s.paddingRight = 0; },
        afterBuildTicks: s => { s.ticks = stepTicks(-10, 10, 2.5); },
        grid: { color: majorGrid, tickColor: majorTick, tickLength: 3 }, border: { display: false },
        ticks: { callback: v => Math.abs(v % 5) < 1e-9 ? String(v) : '', font: { size: 11 }, color: '#4d4d4d', padding: 1, autoSkip: false, maxRotation: 0 }
      },
      y: {
        min: -1.36, max: 25.97,
        afterFit: s => { s.width = 29; },
        afterBuildTicks: s => { s.ticks = stepTicks(0, 25, 2.5); },
        grid: { color: majorGrid, tickColor: majorTick, tickLength: 3 }, border: { display: false },
        ticks: { callback: v => Math.abs(v % 5) < 1e-9 ? String(v) : '', font: { size: 11 }, color: '#4d4d4d', padding: 1, autoSkip: false }
      }
    },
    plugins: { frame: { color: '#8a8a8a', width: 1.3 } }
  },
  plugins: [framePlugin, volcanoPlugin]
});
addBox(40.5, 288, 6, 6, 'border-radius:50%;background:rgba(152,205,146,0.95);');
addText('HC', 52, 291.5, { size: 12.5, align: 'left' });
addBox(40.5, 307, 6, 6, 'border-radius:50%;background:rgba(133,118,190,0.95);');
addText('AP', 52, 310.5, { size: 12.5, align: 'left' });

// ================= Panel D =================
addText('D', 293, 258, { size: 14, align: 'left' });
addText('HC', 457, 268, { size: 12 });
addText('AP', 578, 268, { size: 12 });
addText('Host Genus', 294, 505, { size: 9, rotate: true });
addText('Virus family', 485, 800, { size: 9 });

function dotPanel(left, width, dots, axisW, showGenus) {
  const datasets = legendFamilies.map((fam, k) => ({
    label: fam,
    data: dots.filter(d => xFamilies[d[1]] === fam)
      .map(d => ({ x: d[1], y: hostGenera.indexOf(d[0]), r: dotRadius(d[2]) })),
    backgroundColor: hexA(familyHues[k], 0.68), borderWidth: 0, clip: false
  }));
  return makeChart(left - axisW, 272, axisW + width + 1, 520, {
    type: 'bubble',
    data: { datasets },
    options: {
      layout: { autoPadding: false, padding: { top: 5, right: 1 } },
      scales: {
        x: {
          min: -0.6, max: 11.6,
          afterFit: s => { s.height = 59; s.paddingLeft = 0; s.paddingRight = 0; },
          afterBuildTicks: s => { s.ticks = xFamilies.map((_, i) => ({ value: i })); },
          grid: { color: '#ebebeb', tickColor: '#333', tickLength: 3 }, border: { display: false },
          ticks: { autoSkip: false, minRotation: 45, maxRotation: 45, callback: v => xFamilies[v], font: { size: 8.8 }, color: '#333', padding: 0 }
        },
        y: {
          min: -0.6, max: 59.6, reverse: true,
          afterFit: s => { s.width = axisW; s.paddingTop = 0; s.paddingBottom = 0; },
          afterBuildTicks: s => { s.ticks = hostGenera.map((_, i) => ({ value: i })); },
          grid: { color: '#ebebeb', tickColor: '#333', tickLength: 3, drawTicks: showGenus }, border: { display: false },
          ticks: { display: showGenus, autoSkip: false, callback: v => hostGenera[v], font: { size: 8.8 }, color: '#333', padding: 1 }
        }
      },
      plugins: { frame: { color: '#666' } }
    },
    plugins: [framePlugin]
  });
}
dotPanel(399, 118, hcDots, 109, true);
dotPanel(517, 120, apDots, 60, false);

addText('Virus Family', 655, 332, { size: 8.8, align: 'left' });
legendFamilies.forEach((f, k) => {
  const y = 352 + k * 17.9;
  addBox(659.5, y - 3.3, 6.6, 6.6, `border-radius:50%;background:${hexA(familyHues[k], 0.8)};`);
  addText(f, 672, y, { size: 8.8, align: 'left' });
});
addText('Virus Count', 655, 586, { size: 8.8, align: 'left' });
const countLegendDiam = [8.6, 9.2, 9.8, 10.4, 11];
countLegend.forEach((c, k) => {
  const y = 605 + k * 18, d = countLegendDiam[k];
  addBox(663 - d / 2, y - d / 2, d, d, 'border-radius:50%;background:#1f1f1f;');
  addText(String(c), 676, y, { size: 8.8, align: 'left' });
});

// ================= Panel E =================
addText('E', 2, 549, { size: 14, align: 'left' });
addText('KEGG Enrichment Analysis', 143, 552.5, { size: 9.8 });
addText('KEGG', 7, 670, { size: 8.7, rotate: true });
addText('% Occurrence rate', 150, 793, { size: 8.8 });

const starPlugin = {
  id: 'stars',
  afterDatasetsDraw(chart, args, opts) {
    const ctx = chart.ctx, xs = chart.scales.x;
    const hcEls = chart.getDatasetMeta(0).data, apEls = chart.getDatasetMeta(1).data;
    ctx.save();
    ctx.fillStyle = '#E8463C';
    ctx.font = '10px ' + FONT;
    ctx.textAlign = 'left'; ctx.textBaseline = 'middle';
    opts.labels.forEach((lab, k) => {
      const useAP = keggAP[k] > keggHC[k];
      const el = useAP ? apEls[k] : hcEls[k];
      const v = useAP ? keggAP[k] : keggHC[k];
      ctx.fillText(lab, xs.getPixelForValue(v) + 2, el.y + 2.5);
    });
    ctx.restore();
  }
};

makeChart(0, 555, 260, 245, {
  type: 'bar',
  data: {
    labels: keggIds,
    datasets: [
      { label: 'HC_enrich vOTUs', data: keggHC, backgroundColor: '#7BA7CA', barPercentage: 1, categoryPercentage: 0.9 },
      { label: 'AP_enrich vOTUs', data: keggAP, backgroundColor: '#EF7B6E', barPercentage: 1, categoryPercentage: 0.9 }
    ]
  },
  options: {
    indexAxis: 'y',
    layout: { padding: { top: 7, right: 5 } },
    scales: {
      x: {
        min: 0, max: 30,
        afterFit: s => { s.height = 23; s.paddingLeft = 0; s.paddingRight = 0; },
        afterBuildTicks: s => { s.ticks = stepTicks(0, 30, 5); },
        grid: { color: c => (c.tick && c.tick.value % 10 === 0) ? '#d8d8d8' : '#ececec', tickColor: c => (c.tick && c.tick.value % 10 === 0) ? '#333' : 'rgba(0,0,0,0)', tickLength: 3 },
        border: { display: false },
        ticks: { callback: v => v % 10 === 0 ? String(v) : '', font: { size: 9.5 }, color: '#333', padding: 0, autoSkip: false, maxRotation: 0 }
      },
      y: {
        afterFit: s => { s.width = 52; },
        grid: { color: '#e4e4e4', drawTicks: false, offset: true }, border: { display: false },
        ticks: { font: { size: 9.2 }, color: '#333', padding: 3 }
      }
    },
    plugins: { frame: { color: '#555', width: 1.5 }, stars: { labels: keggSig } }
  },
  plugins: [framePlugin, starPlugin]
});
addBox(159, 583, 93, 28, 'background:#fff;');
addBox(162, 586, 10, 9, 'background:#EF7B6E;');
addText('AP_enrich vOTUs', 176, 590.5, { size: 8.9, align: 'left' });
addBox(162, 599.5, 10, 9.5, 'background:#7BA7CA;');
addText('HC_enrich vOTUs', 176, 604.5, { size: 8.9, align: 'left' });
</script>
</body>
</html>
